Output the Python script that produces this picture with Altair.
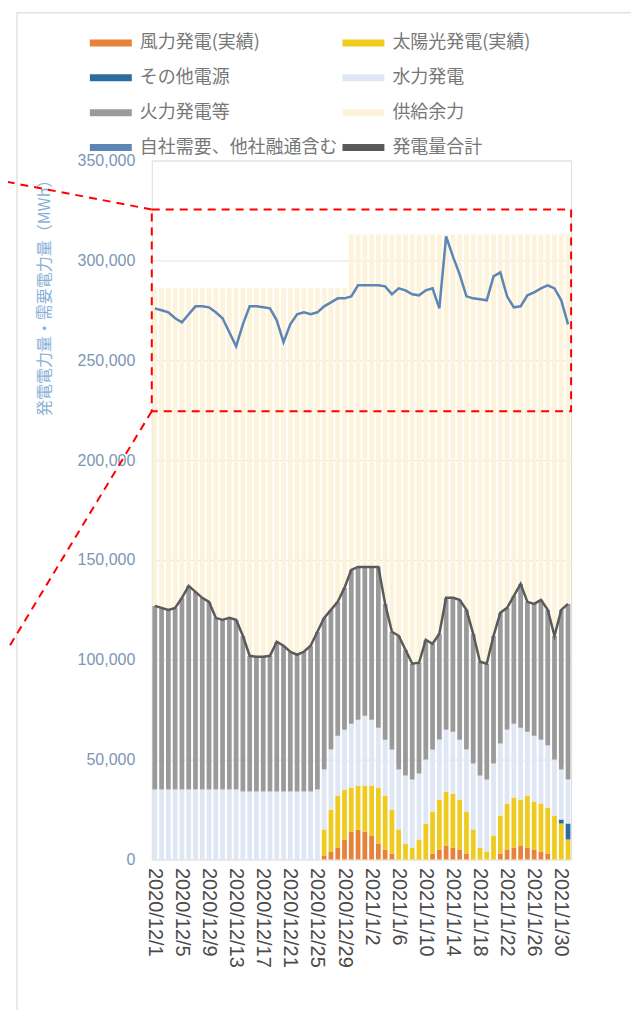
import altair as alt
import pandas as pd

# ---- categories ----
dates = [f"{d.year}/{d.month}/{d.day}" for d in pd.date_range("2020-12-01", "2021-01-31")]
label_dates = dates[::4]

names = ["風力発電(実績)", "太陽光発電(実績)", "その他電源", "水力発電",
         "火力発電等", "供給余力", "自社需要、他社融通含む", "発電量合計"]
colors = ["#e8823a", "#eecb1e", "#2e6b9e", "#dfe7f4",
          "#9a9a9a", "#fdf2da", "#5b86b5", "#5a5a5a"]
# legend fills column by column: reorder so rows read left→right as in the picture
legend_order = [0, 2, 4, 6, 1, 3, 5, 7]

# ---- series values (thousand MWh) ----
demand_k = [276, 275, 274, 271, 269, 273, 277, 277, 276.5, 274,
            271, 264, 257, 268, 277, 277, 276.5, 276, 270, 259,
            268, 273, 274, 273, 274, 277, 279, 281, 281, 282,
            287.5, 287.5, 287.5, 287.5, 287, 283, 286, 285, 283, 282.5,
            285, 286, 276, 312, 302, 293, 282, 281, 280.5, 280,
            292, 294, 282, 276.5, 277, 282.5, 284, 286, 287.5, 286,
            280, 268]
gray_top_k = [127, 126, 125, 126, 131, 137, 134, 131, 129, 121,
              120, 121, 120, 112, 102, 101.5, 101.5, 102, 109, 107,
              104, 102.5, 104, 107, 114, 121, 125, 129, 136, 145,
              146.5, 146.5, 146.5, 146.5, 128, 114, 112, 105, 98, 98.5,
              110, 108, 113, 131, 131, 130, 125, 113, 99, 98,
              112, 123.5, 126, 132, 138, 129, 128, 130, 125, 112,
              125, 128]
supply_top_k = [286] * 29 + [313] * 33
lav_top_k = [35, 35, 35, 35, 35, 35, 35, 35, 35, 35,
             35, 35, 35, 34, 34, 34, 34, 34, 34, 34,
             34, 34, 34, 34, 35, 45, 55, 62, 65, 68,
             70, 72, 70, 66, 60, 55, 45, 42, 40, 43,
             50, 55, 60, 65, 64, 60, 55, 48, 42, 40,
             48, 58, 65, 68, 66, 64, 62, 60, 57, 50,
             45, 40]
yellow_top_k = [0] * 25 + [15, 25, 32, 35, 36, 37, 37, 37, 36, 32,
                           25, 15, 8, 6, 10, 18, 24, 30, 34, 33,
                           30, 24, 15, 6, 4, 12, 22, 28, 31, 30,
                           32, 29, 28, 26, 22, 18, 10]
orange_k = [0] * 25 + [2, 4, 6, 10, 14, 15, 14, 12, 8, 5,
                       3, 0, 0, 0, 0, 0, 3, 5, 7, 6,
                       5, 3, 0, 0, 0, 0, 3, 5, 6, 7,
                       6, 5, 4, 3, 0, 0, 0]
other_k = [0] * 60 + [2, 8]

y_ticks = [0, 50000, 100000, 150000, 200000, 250000, 300000, 350000]
zoom_box = [224500, 325500]

K = 1000
rows = []
for i, d in enumerate(dates):
    o = orange_k[i] * K
    yt = yellow_top_k[i] * K
    ot = yt + other_k[i] * K
    lt = max(lav_top_k[i] * K, ot)
    gt = gray_top_k[i] * K
    st = supply_top_k[i] * K
    for s, lo, hi in [(names[0], 0, o), (names[1], o, yt), (names[2], yt, ot),
                      (names[3], ot, lt), (names[4], lt, gt), (names[5], gt, st)]:
        rows.append({"date": d, "series": s, "lo": lo, "hi": hi})
bars_df = pd.DataFrame(rows)
lines_df = pd.DataFrame({"date": dates,
                         "demand": [v * K for v in demand_k],
                         "gtop": [v * K for v in gray_top_k]})

W, H = 420, 700
FONT = "Noto Sans CJK JP"

x_enc = alt.X("date:N", sort=dates, title=None,
              scale=alt.Scale(paddingInner=0.3, paddingOuter=0.1),
              axis=alt.Axis(values=label_dates, labelAngle=90, labelFontSize=20,
                            labelFont="Liberation Sans", labelColor="#4a4a4a",
                            labelPadding=8, ticks=False, domain=False,
                            labelOverlap=False, grid=False))
y_scale = alt.Scale(domain=[0, 350000], nice=False)
Y_TITLE = "発電電力量・需要電力量（MWh）"
y_axis = alt.Axis(values=y_ticks, format=",.0f",
                  labelFontSize=16, labelColor="#7d95b5", labelFont="Liberation Sans",
                  labelPadding=17, ticks=False, domain=False,
                  gridColor="#e4e4e4", titleColor="#8ab0d6", titleFontSize=16,
                  titleFont=FONT, titleFontWeight="normal",
                  titleX=-107, titleY=133, titleAlign="center",
                  titleBaseline="middle", titleAngle=-90)

bars = alt.Chart(bars_df).mark_bar().encode(
    x=x_enc,
    y=alt.Y("hi:Q", scale=y_scale, stack=None, title=Y_TITLE, axis=y_axis),
    y2="lo:Q",
    color=alt.Color("series:N",
                    scale=alt.Scale(domain=[names[j] for j in legend_order],
                                    range=[colors[j] for j in legend_order]),
                    legend=alt.Legend(orient="none", legendX=-58.5, legendY=-135.5,
                                      columns=2, title=None,
                                      symbolType="M-1.2,-0.2H1.2V0.2H-1.2Z",
                                      symbolSize=1225, symbolStrokeWidth=0,
                                      symbolOpacity=1,
                                      labelFontSize=18, labelColor="#777777",
                                      labelFont=FONT, labelOffset=11.5,
                                      rowPadding=8, columnPadding=4,
                                      labelLimit=400))
)

demand_line = alt.Chart(lines_df).mark_line(color="#5b86b5", strokeWidth=2.5).encode(
    x=x_enc, y=alt.Y("demand:Q", scale=y_scale, title=Y_TITLE, axis=y_axis))
gray_line = alt.Chart(lines_df).mark_line(color="#5a5a5a", strokeWidth=2.5).encode(
    x=x_enc, y=alt.Y("gtop:Q", scale=y_scale, title=Y_TITLE, axis=y_axis))

one = pd.DataFrame({"a": [0]})
box = alt.Chart(one).mark_rect(fill=None, filled=False, stroke="#ff0000",
                               strokeWidth=2, strokeDash=[8, 6]).encode(
    x=alt.value(0), x2=alt.value(W),
    y=alt.Y(datum=zoom_box[1], type="quantitative", scale=y_scale,
            title=Y_TITLE, axis=y_axis),
    y2=alt.datum(zoom_box[0]))
line_up = alt.Chart(one).mark_rule(color="#ff0000", strokeWidth=2, strokeDash=[8, 6]).encode(
    x=alt.value(0), y=alt.value(49), x2=alt.value(-152), y2=alt.value(20))
line_dn = alt.Chart(one).mark_rule(color="#ff0000", strokeWidth=2, strokeDash=[8, 6]).encode(
    x=alt.value(0), y=alt.value(251), x2=alt.value(-152), y2=alt.value(502))
frame = alt.Chart(one).mark_rect(fill=None, filled=False, stroke="#e2e2e2",
                                 strokeWidth=1.5).encode(
    x=alt.value(-135), x2=alt.value(520), y=alt.value(-148), y2=alt.value(900))

chart = alt.layer(frame, bars, gray_line, demand_line, box, line_up, line_dn).properties(
    width=W, height=H,
    autosize=alt.AutoSizeParams(type="none"),
    padding={"left": 144, "top": 152, "right": 60, "bottom": 150},
).configure_view(stroke=None).configure(font=FONT)

chart.save("out.html", embed_options={"renderer": "svg", "actions": False})
